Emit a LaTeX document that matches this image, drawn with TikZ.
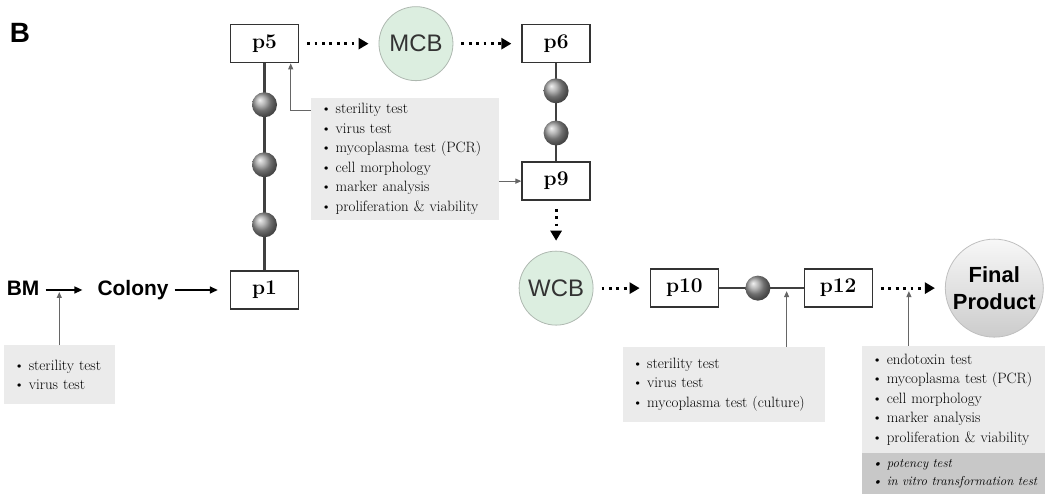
\documentclass[tikz,border=0pt]{standalone}
\usepackage{fontspec}
\usepackage{xcolor}
\usepackage{tikz}
\usetikzlibrary{arrows.meta,positioning,calc}
\newfontfamily\labelfont{Liberation Sans}
\definecolor{BankGreen}{HTML}{DCEEE0}
\definecolor{BankEdge}{HTML}{AEB8B0}
\definecolor{TestGray}{HTML}{EBEBEB}
\definecolor{TestDark}{HTML}{C8C8C8}
\tikzset{
  passage/.style={draw=black!80, line width=1.4bp, fill=white, inner sep=0pt,
    minimum width=68bp, minimum height=38bp, font=\fontsize{21}{24}\selectfont\bfseries},
  stage/.style={inner sep=3bp, text height=15bp, text depth=4bp,
    font=\labelfont\fontsize{21}{24}\selectfont\bfseries},
  bank/.style={circle, draw=BankEdge, thick, fill=BankGreen, inner sep=0pt,
    minimum size=74bp, text=black!80, font=\labelfont\fontsize{24}{28}\selectfont},
  product/.style={circle, draw=black!25, thick, top color=black!3, bottom color=black!20,
    inner sep=0pt, minimum size=98bp, align=center, font=\labelfont\fontsize{22}{27}\selectfont\bfseries},
  bead/.style={circle, shade, shading=ball, ball color=black!38, minimum size=25bp, inner sep=0pt},
  testbox/.style={fill=TestGray, align=left, inner xsep=6bp, inner ysep=6bp,
    font=\fontsize{15}{19.5}\selectfont},
  flow/.style={-{Triangle[length=8bp,width=7bp]}, line width=1.5bp, shorten <=3bp, shorten >=12bp},
  chain/.style={line width=2.2bp, draw=black!75},
  transfer/.style={-{Triangle[length=10bp,width=11bp]}, line width=2.8bp,
    dash pattern=on 2.8bp off 4.6bp, shorten <=8bp, shorten >=10bp},
  check/.style={-{Triangle[length=6bp,width=5bp]}, line width=1.1bp, draw=black!60}
}
\newcommand{\qctest}[1]{\makebox[19bp][c]{\textbullet}#1}

\begin{document}
\begin{tikzpicture}[x=1bp, y=1bp]
  \useasboundingbox (0,0) rectangle (1045,494);
  \node[font=\labelfont\fontsize{28}{32}\selectfont\bfseries] (panel) at (20,461) {B};
  \node[passage] (p1) at (264.5,204) {p1};
  \node[stage, left=20.5mm of p1] (colony) {Colony};
  \node[stage, left=18.3mm of colony] (bm) {BM};
  \node[passage, above=73mm of p1] (p5) {p5};
  \node[bank, right=28mm of p5] (mcb) {MCB};
  \node[passage, right=24mm of mcb] (p6) {p6};
  \node[passage, below=34.6mm of p6] (p9) {p9};
  \node[bank, below=17.6mm of p9] (wcb) {WCB};
  \node[passage, right=19.8mm of wcb] (p10) {p10};
  \node[passage, right=29.8mm of p10] (p12) {p12};
  \node[product, right=25.4mm of p12] (final) {Final\\Product};

  \coordinate (bmtap) at ($(bm.east)!0.33!(colony.west)$);
  \coordinate (tap1) at ($(p10.east)!0.8!(p12.west)$);
  \coordinate (tap2) at ($(p12.east)!0.5!(final.west)$);

  \draw[flow] (bm) -- (colony);
  \draw[flow] (colony) -- (p1);
  \draw[chain] (p5) -- (p1);
  \foreach \i/\pos in {1/0.2,2/0.49,3/0.78}
    \node[bead] (bead\i) at ($(p5.south)!\pos!(p1.north)$) {};
  \draw[transfer] (p5) -- (mcb);
  \draw[transfer] (mcb) -- (p6);
  \draw[chain] (p6) -- (p9);
  \foreach \i/\pos in {4/0.28,5/0.71}
    \node[bead] (bead\i) at ($(p6.south)!\pos!(p9.north)$) {};
  \draw[transfer] (p9) -- (wcb);
  \draw[transfer] (wcb) -- (p10);
  \draw[chain] (p10) -- (p12);
  \node[bead] (bead6) at ($(p10.east)!0.46!(p12.west)$) {};
  \draw[transfer] (p12) -- (final);

  \node[testbox, text width=99bp, minimum height=59bp, below=15mm of bm.south west, anchor=north west] (bmtests)
    {\qctest{sterility test}\\\qctest{virus test}};
  \node[testbox, text width=176bp, below right=12mm and 4mm of p5.south east] (mcbtests)
    {\qctest{sterility test}\\\qctest{virus test}\\\qctest{mycoplasma test (PCR)}\\
     \qctest{cell morphology}\\\qctest{marker analysis}\\\qctest{proliferation \& viability}};
  \node[testbox, text width=192bp, inner xsep=5bp, minimum height=75bp, anchor=north west] (p10tests)
    at ($(p10.south west)+(-9.4mm,-13.8mm)$)
    {\qctest{sterility test}\\\qctest{virus test}\\\qctest{mycoplasma test (culture)}};
  \node[testbox, text width=176bp, minimum height=107bp, inner ysep=4bp, anchor=north west] (finaltests)
    at ($(p12.south east)+(-4mm,-13.4mm)$)
    {\qctest{endotoxin test}\\\qctest{mycoplasma test (PCR)}\\\qctest{cell morphology}\\
     \qctest{marker analysis}\\\qctest{proliferation \& viability}};
  \node[testbox, fill=TestDark, text width=176bp, minimum height=41bp, inner ysep=3bp,
    below=0pt of finaltests, font=\fontsize{13}{18.5}\selectfont\itshape] (extratests)
    {\qctest{potency test}\\\qctest{in vitro transformation test}};

  \draw[check, shorten >=2bp] (bmtests.north) -- (bmtests.north |- bmtap);
  \draw[check] ([yshift=-13bp]mcbtests.north west) -| ([xshift=-3mm]p5.south east);
  \draw[check] (mcbtests.east |- p9.west) -- (p9.west);
  \draw[check, shorten >=3bp] (p10tests.north -| tap1) -- (tap1);
  \draw[check, shorten >=3bp] (finaltests.north -| tap2) -- (tap2);
\end{tikzpicture}
\end{document}
